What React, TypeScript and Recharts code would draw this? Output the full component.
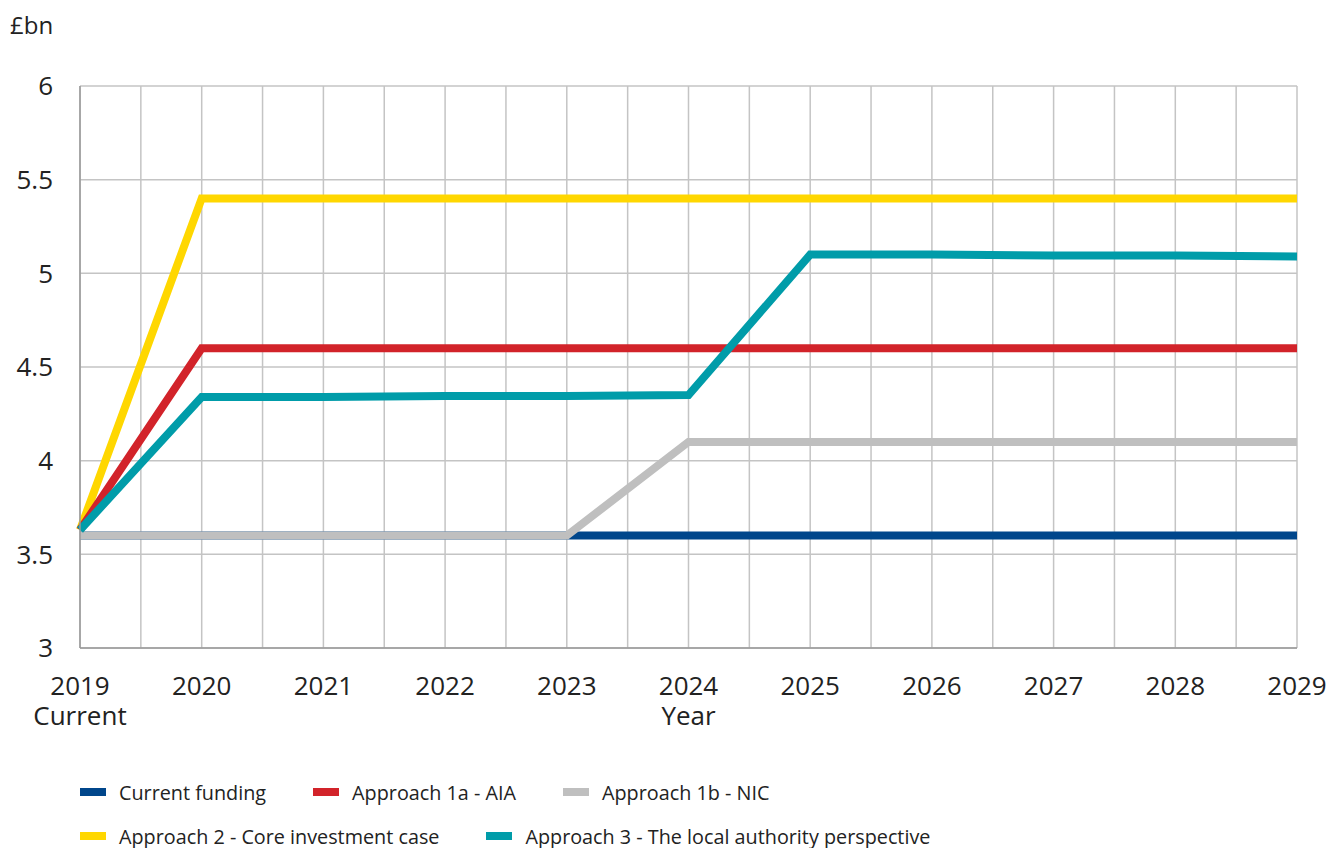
import { LineChart, Line, XAxis, YAxis, CartesianGrid } from "recharts";

// £bn by year
const years = [2019, 2020, 2021, 2022, 2023, 2024, 2025, 2026, 2027, 2028, 2029];
const currentFunding = [3.6, 3.6, 3.6, 3.6, 3.6, 3.6, 3.6, 3.6, 3.6, 3.6, 3.6];
const approach1a = [3.63, 4.6, 4.6, 4.6, 4.6, 4.6, 4.6, 4.6, 4.6, 4.6, 4.6];
const approach1b = [3.6, 3.6, 3.6, 3.6, 3.6, 4.1, 4.1, 4.1, 4.1, 4.1, 4.1];
const approach2 = [3.63, 5.4, 5.4, 5.4, 5.4, 5.4, 5.4, 5.4, 5.4, 5.4, 5.4];
const approach3 = [3.63, 4.34, 4.34, 4.345, 4.345, 4.35, 5.1, 5.1, 5.095, 5.095, 5.09];

// half-year steps give the vertical grid, labels only on whole years
const xTicks = [
  2019, 2019.5, 2020, 2020.5, 2021, 2021.5, 2022, 2022.5, 2023, 2023.5, 2024,
  2024.5, 2025, 2025.5, 2026, 2026.5, 2027, 2027.5, 2028, 2028.5, 2029,
];
const yTicks = [3, 3.5, 4, 4.5, 5, 5.5, 6];

// draw order matters: grey covers blue until 2023, teal sits on top
const series = [
  { key: "current", name: "Current funding", color: "#00468b", values: currentFunding },
  { key: "a1b", name: "Approach 1b - NIC", color: "#bfbfbf", values: approach1b },
  { key: "a2", name: "Approach 2 - Core investment case", color: "#ffd700", values: approach2 },
  { key: "a1a", name: "Approach 1a - AIA", color: "#d2232a", values: approach1a },
  { key: "a3", name: "Approach 3 - The local authority perspective", color: "#009ca9", values: approach3 },
];

const legendRows = [
  ["current", "a1a", "a1b"],
  ["a2", "a3"],
];

const data = years.map((year, i) => {
  const row: Record<string, number> = { year };
  series.forEach((s) => (row[s.key] = s.values[i]));
  return row;
});

const FONT = "'Open Sans', sans-serif";
const INK = "#222";

function YearTick({ x, y, payload }: any) {
  const v = payload.value;
  if (!Number.isInteger(v)) return null;
  return (
    <g>
      <text x={x} y={y} dy={26} textAnchor="middle" fontSize={26} fill={INK} fontFamily={FONT}>
        {v}
      </text>
      {v === 2019 && (
        <text x={x} y={y} dy={56} textAnchor="middle" fontSize={26} fill={INK} fontFamily={FONT}>
          Current
        </text>
      )}
    </g>
  );
}

function LegendBox() {
  const byKey = Object.fromEntries(series.map((s) => [s.key, s]));
  return (
    <div style={{ position: "absolute", left: 80, top: 770, fontFamily: FONT, fontSize: 19.8, color: INK }}>
      {legendRows.map((row, r) => (
        <div key={r} style={{ display: "flex", height: 44, alignItems: "center", whiteSpace: "nowrap" }}>
          {row.map((k) => (
            <div key={k} style={{ display: "flex", alignItems: "center", marginRight: 47 }}>
              <span
                style={{ display: "inline-block", width: 26, height: 8, background: byKey[k].color, marginRight: 13 }}
              />
              <span>{byKey[k].name}</span>
            </div>
          ))}
        </div>
      ))}
    </div>
  );
}

export default function App() {
  return (
    <div style={{ position: "absolute", left: 0, top: 0, width: 1328, height: 848, background: "#fff" }}>
      <div style={{ position: "absolute", left: 10, top: 8, fontFamily: FONT, fontSize: 24, color: INK }}>£bn</div>
      <LineChart width={1328} height={848} data={data} margin={{ top: 86, right: 31, bottom: 170, left: 0 }}>
        <CartesianGrid stroke="#c4c4c4" strokeWidth={1.5} />
        <XAxis
          dataKey="year"
          type="number"
          domain={[2019, 2029]}
          ticks={xTicks}
          interval={0}
          height={30}
          tickLine={false}
          tickSize={0}
          tickMargin={21}
          axisLine={{ stroke: "#999", strokeWidth: 1.5 }}
          tick={<YearTick />}
          label={{ value: "Year", position: "insideBottom", offset: -47, fontSize: 26, fill: INK, fontFamily: FONT }}
        />
        <YAxis
          width={80}
          domain={[3, 6]}
          ticks={yTicks}
          interval={0}
          tickLine={false}
          tickSize={0}
          tickMargin={27}
          axisLine={{ stroke: "#999", strokeWidth: 1.5 }}
          tick={{ fontSize: 26, fill: INK, fontFamily: FONT }}
        />
        <YAxis
          yAxisId="right"
          orientation="right"
          width={0}
          domain={[3, 6]}
          tick={false}
          tickLine={false}
          axisLine={{ stroke: "#666", strokeWidth: 1.5 }}
        />
        {series.map((s) => (
          <Line
            key={s.key}
            dataKey={s.key}
            name={s.name}
            stroke={s.color}
            strokeWidth={8}
            dot={false}
            activeDot={false}
            type="linear"
            isAnimationActive={false}
          />
        ))}
      </LineChart>
      <LegendBox />
    </div>
  );
}
